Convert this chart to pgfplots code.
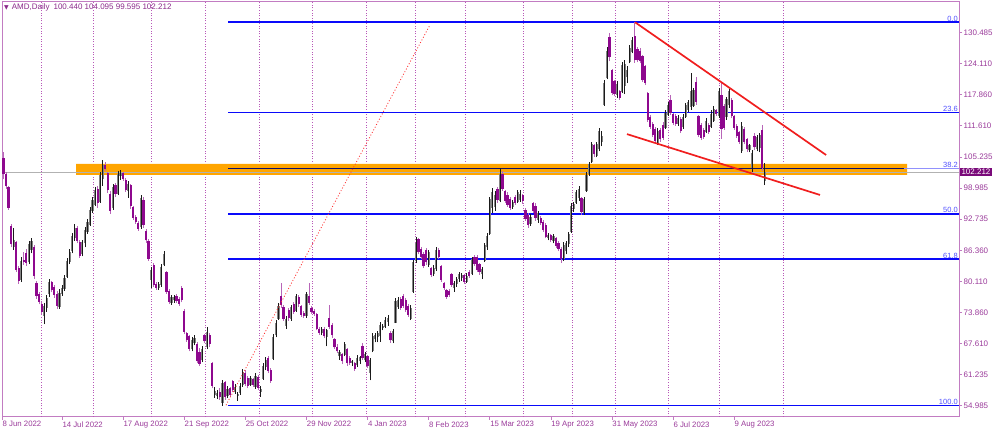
\documentclass[border=0pt]{standalone}
\usepackage{pgfplots}
\pgfplotsset{compat=1.18}
\usepackage{pgfplotstable}
\usepackage{fontspec}
\setmainfont{Liberation Sans}
\newfontfamily\dejavu{DejaVu Sans}
\definecolor{framecol}{HTML}{C27CC2}
\definecolor{lblcol}{HTML}{9A3A9A}
\definecolor{gridcol}{HTML}{B858B8}
\definecolor{upbody}{HTML}{858585}
\definecolor{upwick}{HTML}{1A1A1A}
\definecolor{dnbody}{HTML}{8E088E}
\definecolor{dnwick}{HTML}{B865B8}
\definecolor{fibblue}{HTML}{0A0AFA}
\definecolor{fibnavy}{HTML}{10106A}
\definecolor{fiblbl}{HTML}{5050FF}
\definecolor{bandcol}{HTML}{FFA500}
\definecolor{wedgered}{HTML}{F01E1E}
\definecolor{pricebox}{HTML}{7A0A7A}
\definecolor{titlecol}{HTML}{8A2A8A}
% up candles: i open high low close
\pgfplotstableread{
i o h l c
5 87.0 90.9 86.5 88.5
8 80.5 85.0 80.0 84.3
11 84.0 88.2 83.6 87.6
12 86.5 88.9 85.8 88.2
17 73.2 75.8 71.5 75.2
18 74.8 77.3 74.0 76.8
19 77.5 80.6 77.0 80.0
23 75.0 78.6 74.6 77.8
24 77.6 79.3 77.2 78.8
25 78.6 81.4 78.2 80.9
26 81.0 84.8 80.8 84.2
27 84.0 86.6 83.6 86.0
28 86.2 90.0 85.8 89.4
29 88.8 91.8 88.3 91.0
32 85.6 88.5 85.2 88.0
33 87.8 91.1 87.0 90.6
34 90.2 92.7 89.8 92.2
35 91.6 95.2 91.3 94.6
36 94.4 97.2 94.0 96.6
37 95.6 99.3 95.3 98.6
39 96.2 102.3 96.0 101.6
40 100.8 104.6 99.5 103.6
44 95.0 99.8 94.6 99.2
46 97.8 102.4 97.6 101.8
47 101.4 102.6 100.6 102.0
50 98.4 100.4 97.0 99.8
55 91.2 97.6 90.8 97.0
59 80.4 83.0 78.8 82.4
62 78.8 80.0 78.4 79.6
63 79.4 83.6 79.0 83.0
64 83.4 86.2 83.2 85.6
67 75.8 77.4 75.4 76.9
68 76.4 77.4 75.8 77.0
75 66.4 68.8 66.0 68.2
76 67.6 69.2 67.2 68.6
79 64.2 67.0 63.8 66.4
81 66.8 71.0 66.4 69.8
84 57.2 58.8 56.6 58.0
85 57.0 58.2 56.4 57.6
87 55.6 60.2 55.0 59.6
89 57.0 59.0 56.6 58.4
92 57.8 59.4 57.4 58.8
93 57.0 57.8 56.0 57.4
94 57.6 59.6 57.2 59.0
95 59.2 62.4 58.8 61.8
98 59.2 61.0 59.0 60.6
100 58.8 61.6 58.4 61.0
102 57.8 59.0 56.8 58.4
103 60.4 63.6 60.2 63.0
104 62.8 64.8 62.2 64.2
107 64.4 69.4 64.2 68.8
108 69.2 72.4 68.8 71.8
109 72.6 75.8 72.4 75.2
112 71.2 73.1 70.6 72.6
114 72.6 75.4 72.2 75.0
116 74.2 77.6 74.0 77.2
120 73.2 78.0 72.8 77.6
126 69.6 71.0 69.2 70.6
128 68.8 70.6 67.0 70.2
133 65.0 66.2 64.3 65.8
135 65.2 67.9 65.0 67.4
138 63.6 64.3 63.0 64.0
140 63.2 65.2 62.8 64.6
141 64.0 65.0 63.4 64.8
143 64.2 65.8 63.8 65.4
145 61.6 64.6 60.1 64.2
146 66.0 69.7 65.8 69.0
147 68.4 69.6 67.8 69.2
148 68.8 70.0 67.8 69.6
149 69.0 71.9 67.9 71.4
150 70.8 71.6 70.2 71.2
151 71.0 72.9 70.7 72.4
152 72.0 73.3 71.2 72.8
154 68.0 70.6 67.6 70.0
155 71.8 76.8 71.7 76.2
156 75.0 77.0 74.6 76.4
161 72.6 75.3 72.3 74.8
162 78.0 84.5 77.8 84.0
163 84.2 89.0 83.8 87.8
168 83.4 86.5 83.0 86.0
170 81.6 83.4 81.2 82.8
171 82.6 87.0 82.2 86.4
178 78.8 80.2 78.0 79.8
179 79.6 81.0 79.0 80.6
180 80.6 82.0 80.0 81.6
181 80.8 81.8 80.2 81.4
183 80.0 81.8 79.8 81.2
185 81.6 85.0 81.4 84.6
189 81.6 83.0 80.6 82.6
190 84.2 87.9 84.0 87.4
191 87.0 89.9 86.5 89.4
192 89.8 97.2 89.6 96.8
193 95.0 99.0 94.0 98.2
194 95.2 98.4 94.4 97.6
196 96.4 103.0 96.1 101.8
201 95.2 96.6 94.8 96.2
203 96.2 98.6 96.0 98.2
204 96.6 98.6 96.2 97.8
208 91.8 93.8 91.4 93.2
211 92.6 94.4 92.0 94.0
215 88.8 90.0 88.4 89.6
217 88.2 89.8 87.8 89.4
221 84.6 88.0 84.2 87.4
222 86.2 88.2 85.6 87.8
223 87.6 90.2 87.1 89.8
224 90.2 96.0 90.0 95.4
225 94.8 96.2 94.2 95.8
226 96.0 98.6 95.8 98.2
227 97.0 99.4 96.4 98.8
229 94.0 97.2 93.6 96.8
230 98.4 102.2 98.2 101.6
231 101.8 104.2 101.4 103.8
232 104.2 108.3 104.0 107.8
234 105.4 108.4 105.2 107.8
235 106.8 111.1 106.4 110.6
236 108.4 110.6 107.4 109.6
237 115.8 120.8 115.6 120.2
238 121.2 127.5 121.0 126.8
242 117.8 120.6 117.2 120.0
244 118.4 124.5 118.2 123.8
245 119.6 124.8 118.0 124.0
246 121.4 123.6 120.2 122.8
247 124.4 127.9 124.2 127.4
248 126.4 129.6 126.2 129.0
258 108.2 111.1 107.7 110.6
261 111.2 114.8 111.0 114.2
262 113.8 116.4 113.6 115.8
266 112.0 113.8 111.6 113.2
268 111.4 114.0 111.0 113.4
269 113.4 116.2 113.2 115.8
270 114.8 116.8 114.4 116.4
271 115.4 122.2 114.8 118.6
272 115.6 119.2 115.4 118.8
277 110.4 113.1 110.1 112.6
279 111.4 114.7 111.2 114.0
280 112.6 115.6 112.4 115.0
282 113.6 119.2 113.1 118.6
285 113.4 117.4 112.8 117.0
286 115.8 119.0 115.2 118.6
291 106.4 112.3 106.1 111.6
294 106.6 108.0 106.2 107.6
295 103.0 106.6 102.2 106.0
297 106.8 109.8 106.4 109.4
298 107.0 110.2 106.2 109.8
300 100.44 104.095 99.595 102.212
}\upc
% down candles: i open high low close
\pgfplotstableread{
i o h l c
1 105.0 106.2 100.8 101.8
2 101.8 102.3 98.8 99.4
3 99.2 99.5 94.6 95.0
4 91.3 91.8 87.0 87.6
6 88.0 88.2 82.0 82.5
7 82.8 83.2 79.6 80.3
9 84.5 86.0 83.5 84.0
10 85.8 86.6 83.2 83.8
13 87.0 87.4 80.6 81.2
14 79.8 80.2 76.6 77.2
15 77.6 78.0 75.5 76.0
16 75.6 76.0 73.6 74.0
20 80.0 80.3 77.9 78.4
21 79.0 79.4 76.8 77.4
22 77.6 78.2 74.5 75.2
30 91.0 91.3 87.8 88.3
31 88.0 88.4 84.9 85.3
38 98.8 99.5 95.0 96.0
41 103.6 104.3 102.4 102.8
42 102.0 102.3 98.0 98.6
43 97.8 98.4 93.8 94.4
45 99.6 100.0 97.2 97.8
48 102.0 102.3 100.4 100.8
49 100.6 101.0 98.2 98.6
51 99.6 99.8 94.8 95.4
52 95.2 95.4 92.6 93.0
53 93.2 93.6 91.8 92.2
54 92.0 92.4 90.4 90.8
56 96.6 97.2 91.0 91.6
57 90.4 90.8 87.9 88.4
58 88.2 88.6 84.2 84.7
60 83.4 83.9 78.9 79.4
61 79.6 80.0 78.4 78.8
65 82.0 82.2 77.6 78.0
66 78.2 78.6 75.6 76.0
69 77.2 77.6 75.8 76.2
70 76.6 77.0 75.2 75.6
71 78.8 79.2 75.9 76.3
72 74.2 74.6 69.4 69.9
73 69.6 69.8 67.9 68.3
74 69.0 69.3 66.0 66.5
77 67.4 67.8 63.6 64.0
78 65.8 66.6 63.0 63.5
80 69.2 69.4 67.6 68.0
82 69.2 69.6 66.8 67.4
83 63.6 63.9 58.5 59.0
86 57.8 58.6 56.2 56.8
88 59.8 60.0 56.2 56.8
90 58.6 58.8 56.8 57.2
91 60.0 60.2 57.8 58.2
96 61.6 62.2 59.0 59.4
97 60.6 61.0 58.5 59.0
99 60.4 60.6 58.8 59.2
101 60.8 61.2 58.2 58.6
105 64.6 65.0 61.6 62.0
106 62.2 62.6 59.6 60.0
110 77.2 79.8 74.8 75.4
111 75.0 75.4 72.2 72.6
113 74.4 74.8 72.2 72.8
115 75.6 76.0 73.6 74.0
117 77.0 77.4 75.0 75.6
118 75.2 75.4 73.0 73.4
119 73.8 74.2 72.8 73.2
121 77.2 79.8 75.4 75.8
122 74.8 75.2 73.6 74.0
123 74.2 74.6 73.2 73.6
124 73.6 73.8 70.2 70.6
125 70.6 71.0 69.3 69.7
127 70.6 71.0 68.6 69.0
129 72.8 75.3 70.6 71.0
130 71.4 71.8 68.7 69.2
131 68.4 68.6 66.4 66.8
132 66.8 67.4 65.6 66.0
134 65.4 65.6 63.4 64.0
136 66.4 66.6 63.0 63.6
137 64.6 65.0 63.2 63.6
139 63.6 63.8 62.0 62.4
142 67.0 67.7 64.2 64.6
144 65.0 65.2 62.6 63.0
153 69.7 70.0 67.7 68.2
157 76.6 77.0 74.4 74.8
158 77.2 77.5 74.8 75.2
159 76.4 76.8 74.0 74.4
160 75.2 75.6 73.0 73.4
164 88.6 88.9 85.6 86.0
165 86.6 87.0 84.6 85.0
166 85.6 86.0 82.8 83.2
167 86.4 86.8 83.4 84.0
169 82.8 83.0 81.0 81.4
172 86.4 86.8 84.6 85.0
173 83.2 83.4 80.0 80.4
174 79.8 80.0 78.4 78.8
175 78.4 78.6 76.6 77.0
176 78.2 78.6 77.0 77.4
177 81.6 81.8 79.0 79.4
182 81.4 81.6 79.6 80.0
184 82.0 82.4 80.8 81.2
186 85.0 85.4 83.2 83.6
187 85.0 85.4 82.0 82.4
188 83.6 83.8 81.5 82.0
195 98.8 99.2 96.0 96.6
197 101.8 102.4 98.4 98.8
198 98.4 98.6 96.0 96.4
199 97.6 98.2 95.2 95.6
200 96.8 97.2 94.6 95.0
202 97.2 97.6 95.6 96.0
205 97.6 97.8 95.8 96.4
206 94.6 95.0 92.4 92.8
207 93.6 94.0 91.0 91.6
209 96.0 96.2 94.0 94.4
210 95.4 96.0 92.4 93.0
212 93.0 93.4 91.6 92.0
213 92.2 92.5 90.1 90.6
214 91.6 92.0 88.8 89.2
216 89.6 89.8 88.0 88.4
218 88.8 89.0 86.9 87.3
219 87.8 88.2 86.2 86.6
220 86.6 87.1 83.8 84.6
228 97.0 97.2 93.6 94.2
233 107.6 108.0 105.2 105.8
239 129.6 130.4 124.6 125.4
240 122.8 123.0 117.8 118.2
241 120.6 120.8 117.6 118.0
243 118.6 118.8 116.8 117.2
249 129.8 132.6 124.3 124.8
250 127.2 127.5 124.4 124.8
251 126.8 127.4 124.2 124.6
252 125.6 125.9 120.4 120.8
253 123.6 123.9 119.8 120.2
254 118.2 118.4 112.3 112.8
255 113.4 113.7 111.0 111.4
256 112.0 112.3 109.3 109.8
257 111.0 111.3 108.1 108.6
259 110.8 111.2 108.4 108.9
260 111.8 112.3 108.7 109.2
263 116.8 117.8 113.8 114.2
264 114.0 114.2 111.7 112.2
265 113.6 114.0 111.6 112.0
267 113.0 113.3 110.1 110.6
273 120.4 121.4 115.8 116.4
274 113.6 113.8 109.3 109.8
275 111.8 112.1 108.7 109.2
276 110.8 111.2 109.0 109.4
278 111.8 112.2 110.0 110.4
281 114.8 115.0 113.6 114.0
283 117.8 120.2 109.0 111.0
284 115.6 116.0 110.8 111.2
287 116.8 117.2 113.1 113.6
288 113.6 113.8 110.7 111.2
289 111.6 112.0 109.2 109.6
290 110.4 110.6 108.0 108.4
292 111.0 111.4 107.8 108.4
293 109.0 109.2 106.3 106.8
296 109.6 110.2 106.6 107.2
299 110.8 111.8 102.4 103.0
}\dnc
\begin{document}
\begin{tikzpicture}[x=1pt,y=1pt]
\useasboundingbox (0,0) rectangle (1000,432);
\begin{axis}[
  at={(2pt,15.3pt)}, anchor=south west,
  width=957pt, height=415.7pt, scale only axis,
  xmin=0.43, xmax=376.3, ymin=52.77, ymax=136.81,
  axis line style={draw=framecol, line width=0.8pt},
  tick style={draw=framecol, line width=0.7pt},
  tick align=outside, major tick length=3pt,
  xtick pos=left, ytick pos=right, yticklabel pos=right,
  xtick={0.5,24,48,72,96,120,144,168,192,216,240,264,288},
  xticklabels={8 Jun 2022,14 Jul 2022,17 Aug 2022,21 Sep 2022,25 Oct 2022,29 Nov 2022,4 Jan 2023,8 Feb 2023,15 Mar 2023,19 Apr 2023,31 May 2023,6 Jul 2023,9 Aug 2023},
  xticklabel style={anchor=north west, font=\fontsize{7.8}{9}\selectfont, text=lblcol, inner sep=0pt, xshift=0.3pt, yshift=-1.5pt},
  ytick={54.985,61.235,67.610,73.860,80.110,86.360,92.735,98.985,105.235,111.610,117.860,124.110,130.485},
  yticklabels={54.985,61.235,67.610,73.860,80.110,86.360,92.735,98.985,105.235,111.610,117.860,124.110,130.485},
  yticklabel style={anchor=west, font=\fontsize{8}{9}\selectfont, text=lblcol, inner sep=0pt, xshift=1.5pt},
  extra x ticks={16.1,36.2,59.3,80.2,101.4,122.2,143.4,163.0,182.3,205.1,224.3,241.2,262.0,282.1,307.2},
  extra x tick labels={},
  extra x tick style={grid=major, major tick length=0pt, major grid style={draw=gridcol, line width=0.9pt, dash pattern=on 1pt off 1.6pt}},
  clip=true,
]
% support band
\addplot[draw=none, fill=bandcol, forget plot] coordinates {(29.5,101.64) (355.9,101.64) (355.9,103.86) (29.5,103.86) (29.5,101.64)};
% current price line
\addplot[draw=black!30, line width=0.6pt, forget plot] coordinates {(0.43,102.212) (376.3,102.212)};
% fibonacci levels
\addplot[fibblue, line width=1.8pt, forget plot] coordinates {(89.2,132.57) (376.3,132.57)};
\addplot[fibblue, line width=1.8pt, forget plot] coordinates {(89.2,114.27) (376.3,114.27)};
\addplot[fibnavy, line width=1.2pt, forget plot] coordinates {(89.2,102.95) (354.5,102.95)};
\addplot[fibblue!45, line width=1.2pt, forget plot] coordinates {(354.5,102.95) (376.3,102.95)};
\addplot[fibblue, line width=1.8pt, forget plot] coordinates {(89.2,93.80) (376.3,93.80)};
\addplot[fibblue, line width=1.8pt, forget plot] coordinates {(89.2,84.65) (376.3,84.65)};
\addplot[fibblue, line width=1.8pt, forget plot] coordinates {(89.2,55.03) (376.3,55.03)};
% down candles: wick then body
\addplot[forget plot, draw=dnwick, line width=0.8pt, quiver={u=0, v=\thisrow{h}-\thisrow{l}}] table[x=i, y=l] {\dnc};
\addplot[forget plot, draw=dnbody, line width=2.2pt, quiver={u=0, v=\thisrow{o}-\thisrow{c}}] table[x=i, y=c] {\dnc};
% up candles: body then wick on top
\addplot[forget plot, draw=upbody, line width=2.2pt, quiver={u=0, v=\thisrow{c}-\thisrow{o}}] table[x=i, y=o] {\upc};
\addplot[forget plot, draw=upwick, line width=0.7pt, quiver={u=0, v=\thisrow{h}-\thisrow{l}}] table[x=i, y=l] {\upc};
% dotted trend line
\addplot[draw=red!80, line width=0.8pt, dash pattern=on 1pt off 2pt, forget plot] coordinates {(88.4,55.1) (168.5,131.96)};
% falling wedge
\addplot[draw=wedgered, line width=1.7pt, forget plot] coordinates {(249.1,132.5) (324.1,105.68)};
\addplot[draw=wedgered, line width=1.7pt, forget plot] coordinates {(245.9,109.9) (321.7,97.6)};
% fib labels
\begin{scope}[every node/.style={anchor=south east, text=fiblbl, font=\fontsize{7.5}{8}\selectfont, inner sep=0.6pt}]
\node at (axis cs:376.1,132.57) {0.0};
\node at (axis cs:376.1,114.27) {23.6};
\node at (axis cs:376.1,102.95) {38.2};
\node at (axis cs:376.1,93.80) {50.0};
\node at (axis cs:376.1,84.65) {61.8};
\node at (axis cs:376.1,55.03) {100.0};
\end{scope}
\coordinate (pr) at (axis cs:376.3,102.212);
\end{axis}
\node[fill=pricebox, text=white, anchor=west, inner xsep=1.5pt, inner ysep=1pt, font=\fontsize{8}{9}\selectfont] at ([xshift=0.8pt]pr) {102.212};
\node[anchor=west, text=titlecol, inner sep=0pt, font=\fontsize{8}{9}\selectfont] at (4,424.6) {{\dejavu\fontsize{6}{7}\selectfont ▼}\hspace{3pt}AMD,Daily\hspace{4pt}100.440 104.095 99.595 102.212};
\end{tikzpicture}
\end{document}
